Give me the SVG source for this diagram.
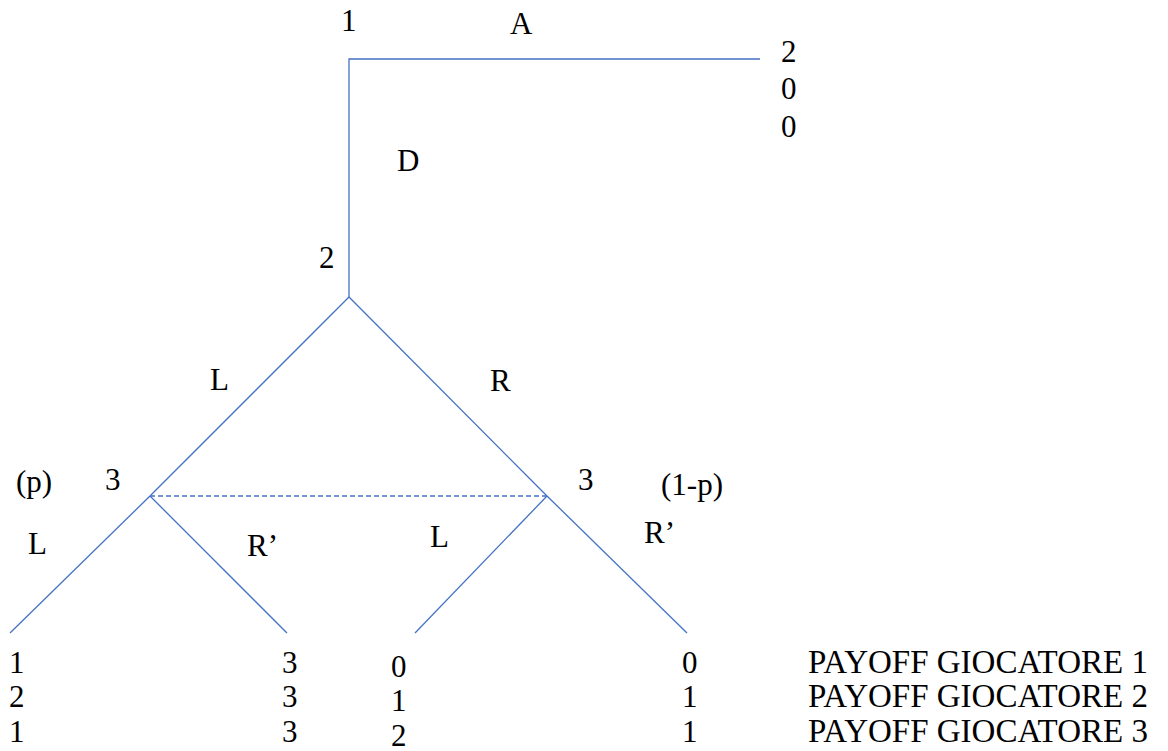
<svg xmlns="http://www.w3.org/2000/svg" width="1168" height="751" viewBox="0 0 1168 751">
<style>
.e{stroke:#4472C4;stroke-width:1.3;fill:none}
.d{stroke:#4472C4;stroke-width:1.3;fill:none;stroke-dasharray:5,3}
text{font-family:"Liberation Serif","Times New Roman",serif;font-size:31px;fill:#000}
.lg{font-size:33px}
</style>
<rect width="1168" height="751" fill="#fff"/>
<g id="connectors">
<polyline class="e" points="760,59 349,59 349,297"/>
<line class="e" x1="349" y1="297" x2="150" y2="496"/>
<line class="e" x1="349" y1="297" x2="547" y2="496"/>
<line class="d" x1="150" y1="496" x2="547" y2="496"/>
<line class="e" x1="150" y1="496" x2="10" y2="633"/>
<line class="e" x1="150" y1="496" x2="287" y2="633"/>
<line class="e" x1="547" y1="496" x2="415" y2="633"/>
<line class="e" x1="547" y1="496" x2="687" y2="633"/>
</g>
<g id="node-1"><text x="341" y="31">1</text><text x="510" y="34">A</text><text x="397" y="171">D</text></g>
<g id="payoff-A"><text x="781" y="62">2</text><text x="781" y="99">0</text><text x="781" y="137">0</text></g>
<g id="node-2"><text x="319" y="268">2</text><text x="210" y="390">L</text><text x="490" y="391">R</text></g>
<g id="node-3a"><text x="16" y="492">(p)</text><text x="105" y="490">3</text><text x="28" y="554">L</text><text x="247" y="556">R’</text></g>
<g id="node-3b"><text x="578" y="490">3</text><text x="661" y="495">(1-p)</text><text x="430" y="547">L</text><text x="644" y="543">R’</text></g>
<g id="payoff-1"><text x="9" y="673">1</text><text x="9" y="707">2</text><text x="9" y="742">1</text></g>
<g id="payoff-2"><text x="282" y="673">3</text><text x="282" y="707">3</text><text x="282" y="742">3</text></g>
<g id="payoff-3"><text x="391" y="677">0</text><text x="391" y="711">1</text><text x="391" y="746">2</text></g>
<g id="payoff-4"><text x="682" y="673">0</text><text x="682" y="707">1</text><text x="682" y="742">1</text></g>
<g id="legend"><text class="lg" x="808" y="673">PAYOFF GIOCATORE 1</text><text class="lg" x="808" y="707">PAYOFF GIOCATORE 2</text><text class="lg" x="808" y="742">PAYOFF GIOCATORE 3</text></g>
</svg>
